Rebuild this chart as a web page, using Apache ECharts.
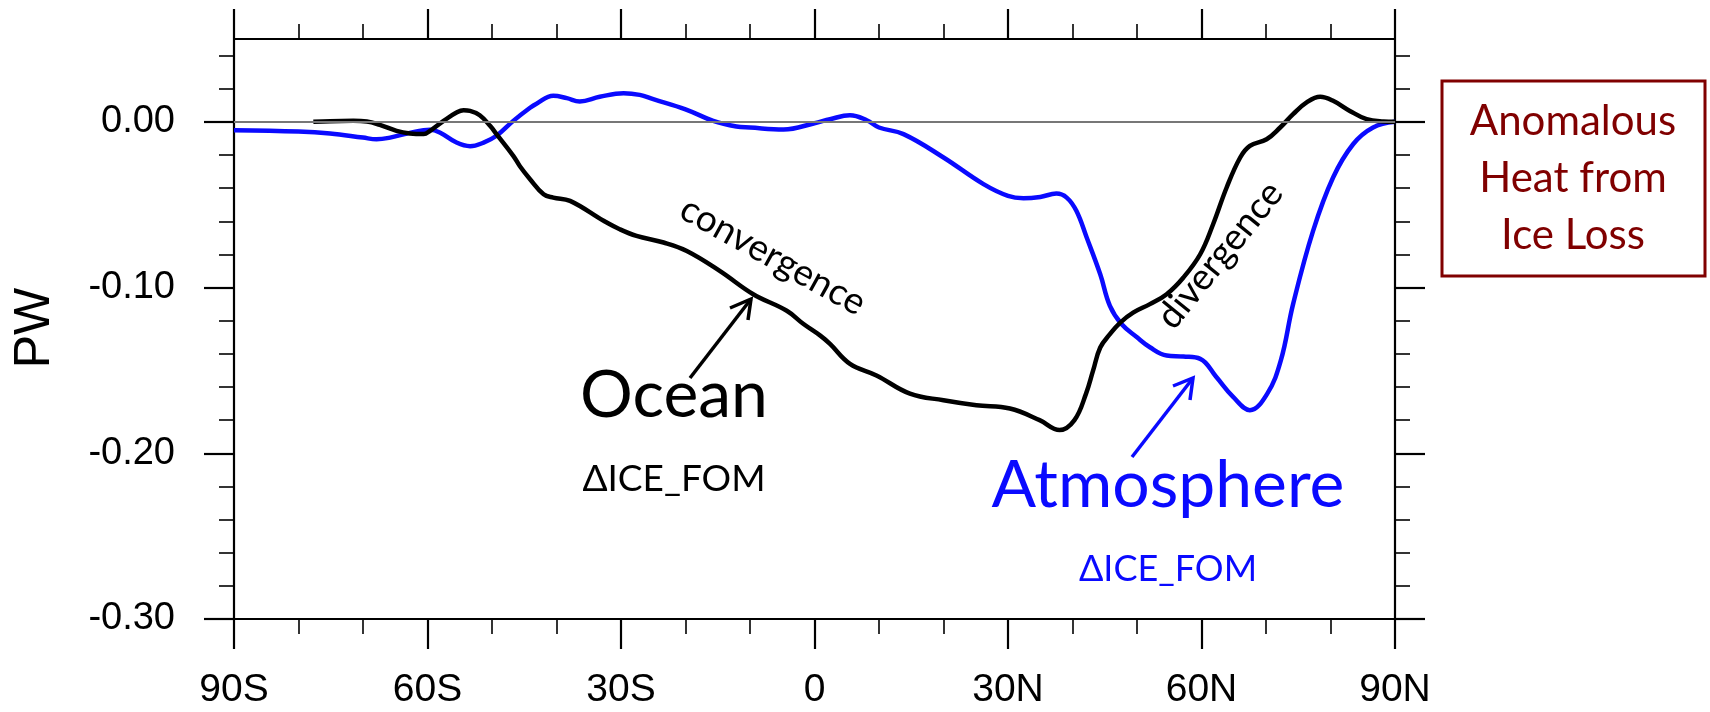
<!DOCTYPE html>
<html>
<head>
<meta charset="utf-8">
<script src="https://cdn.jsdelivr.net/npm/echarts@6/dist/echarts.min.js"></script>
<style>
  html, body { margin: 0; padding: 0; background: #fff; }
  #chart { width: 1710px; height: 712px; }
</style>
</head>
<body>
<div id="chart"></div>
<script>
// Ocean (black) heat transport anomaly, PW
var oceanLat = [-77.7, -75.1, -71.5, -69.4, -67.4, -64.8, -62.7, -60.6, -59.6, -57.5, -55.5, -54.4, -53.4, -51.9, -50.3, -49.3,
    -46.7, -45.7, -44.1, -42.0, -40.5, -37.9, -32.7, -30.2, -27.6, -23.4, -19.8, -14.7, -9.5, -4.3, -1.7, 0.9, 2.4, 5.5, 9.6,
    14.8, 20.0, 25.1, 30.3, 34.9, 38.0, 40.3, 42.1, 43.2, 44.3, 45.8, 47.4, 49.4, 52.0, 54.6, 57.2, 59.8, 61.8, 63.9, 66.0,
    67.5, 70.1, 72.2, 74.2, 76.3, 78.4, 80.4, 83.0, 85.6, 88.2, 90.0];
var oceanPW = [0, 0.0004, 0.0006, 0.0002, -0.0018, -0.0054, -0.0070, -0.0074, -0.0054, 0.0006, 0.0056, 0.0070, 0.0066, 0.0040, -0.0024, -0.0074,
    -0.0205, -0.0266, -0.0346, -0.0437, -0.0457, -0.0477, -0.0597, -0.0648, -0.0688, -0.0728, -0.0779, -0.0899, -0.1040, -0.1140, -0.1220, -0.1290, -0.1340, -0.1460, -0.1530,
    -0.1640, -0.1680, -0.1710, -0.1730, -0.1800, -0.1860, -0.1800, -0.1640, -0.1500, -0.1362, -0.1281, -0.1211, -0.1151, -0.1100, -0.1040, -0.0939, -0.0799, -0.0618, -0.0396, -0.0215,
    -0.0145, -0.0105, -0.0034, 0.0046, 0.0117, 0.0151, 0.0127, 0.0066, 0.0016, 0.0002, 0];

// Atmosphere (blue)
var atmLat = [-90, -80, -75.1, -70, -67.9, -65.8, -63.2, -60.6, -59.6, -58.1, -55.5, -53.4, -51.3, -49.3, -46.7, -44.1, -43.1,
    -40.5, -38.4, -36.4, -33.3, -29.6, -27.1, -25, -20, -15.7, -12.1, -10, -4.8, 0, 2.4, 5.5, 8.1, 10, 13.8, 20, 26.2, 30,
    32.4, 35, 37.5, 39.1, 40.6, 42.2, 44.3, 45.8, 47.6, 50, 52, 54.6, 57.2, 59.8, 62.3, 64.9, 67.5, 70.2, 72.3, 74.2, 77.3,
    80.4, 83.5, 86.6, 90];
var atmPW = [-0.0050, -0.0058, -0.0070, -0.0095, -0.0105, -0.0095, -0.0070, -0.0050, -0.0048, -0.0064, -0.0125, -0.0147, -0.0125, -0.0084, 0.0006, 0.0085, 0.0110,
    0.0157, 0.0143, 0.0123, 0.0151, 0.0173, 0.0163, 0.0137, 0.0076, 0.0006, -0.0028, -0.0034, -0.0046, -0.0008, 0.0016, 0.0040, 0.0010, -0.0034, -0.0074, -0.0215, -0.0376, -0.0447,
    -0.0461, -0.0453, -0.0433, -0.0457, -0.0537, -0.0698, -0.0920, -0.1110, -0.1220, -0.1300, -0.1360, -0.1410, -0.1416, -0.1430, -0.1540, -0.1660, -0.1740, -0.1640, -0.1440, -0.1100, -0.0658,
    -0.0336, -0.0135, -0.0034, 0];

var xTickLabels = {'-90': '90S', '-60': '60S', '-30': '30S', '0': '0', '30': '30N', '60': '60N', '90': '90N'};
var yMajorTicks = [-0.30, -0.20, -0.10, 0.00];

function pairs(xs, ys) {
    var out = [];
    for (var i = 0; i < xs.length; i++) out.push([xs[i], ys[i]]);
    return out;
}

var chart = echarts.init(document.getElementById('chart'));
var axisFont = '"Liberation Sans", Arial, Helvetica, sans-serif';
var noteFont = 'Lato, "Open Sans", sans-serif';

function xAxisCfg(pos, showLabel) {
    return {
        type: 'value', min: -90, max: 90, interval: 30, position: pos,
        axisLine: {show: true, onZero: false, lineStyle: {color: '#000', width: 2.2}},
        axisTick: {show: true, inside: false, length: 30, lineStyle: {color: '#000', width: 2.2}},
        minorTick: {show: true, splitNumber: 3, length: 15, lineStyle: {color: '#000', width: 1.6}},
        splitLine: {show: false},
        axisLabel: {
            show: showLabel, margin: 52, fontSize: 39, color: '#000', fontFamily: axisFont,
            formatter: function (v) { return xTickLabels[String(Math.round(v))]; }
        }
    };
}
function yAxisCfg(pos, showLabel) {
    return {
        type: 'value', min: -0.30, max: 0.05, interval: 0.1, position: pos,
        axisLine: {show: true, onZero: false, lineStyle: {color: '#000', width: 2.2}},
        axisTick: {show: true, inside: false, length: 30, customValues: yMajorTicks, lineStyle: {color: '#000', width: 2.2}},
        minorTick: {show: true, splitNumber: 5, length: 15, lineStyle: {color: '#000', width: 1.6}},
        splitLine: {show: false},
        axisLabel: {
            show: showLabel, customValues: yMajorTicks, margin: 59, fontSize: 38, color: '#000', fontFamily: axisFont,
            formatter: function (v) { return v.toFixed(2); }
        }
    };
}

var option = {
    animation: false,
    backgroundColor: '#fff',
    grid: {left: 234, right: 315, top: 39, bottom: 93},
    xAxis: [xAxisCfg('bottom', true), xAxisCfg('top', false)],
    yAxis: [yAxisCfg('left', true), yAxisCfg('right', false)],
    series: [
        {
            name: 'Atmosphere', type: 'line', data: pairs(atmLat, atmPW),
            showSymbol: false, smooth: 0.4,
            lineStyle: {color: '#0a0aff', width: 4.5},
            markLine: {
                silent: true, symbol: ['none', 'none'], label: {show: false},
                lineStyle: {color: '#777', width: 1.8, type: 'solid'},
                data: [{yAxis: 0}]
            }
        },
        {
            name: 'Ocean', type: 'line', data: pairs(oceanLat, oceanPW),
            showSymbol: false, smooth: 0.4,
            lineStyle: {color: '#000', width: 4.5}
        }
    ],
    graphic: [
        {type: 'text', x: 35, y: 328, rotation: Math.PI / 2,
            style: {text: 'PW', font: '50px ' + axisFont, fill: '#000', align: 'center', verticalAlign: 'middle'}},
        {type: 'text', x: 773, y: 256, rotation: -29 * Math.PI / 180,
            style: {text: 'convergence', font: '37px ' + noteFont, fill: '#000', align: 'center', verticalAlign: 'middle'}},
        {type: 'text', x: 1220, y: 255, rotation: 51 * Math.PI / 180,
            style: {text: 'divergence', font: '37px ' + noteFont, fill: '#000', align: 'center', verticalAlign: 'middle'}},
        {type: 'text', x: 674, y: 396,
            style: {text: 'Ocean', font: '66px ' + noteFont, fill: '#000', align: 'center', verticalAlign: 'middle'}},
        {type: 'text', x: 674, y: 479,
            style: {text: 'ΔICE_FOM', font: '37px ' + noteFont, fill: '#000', align: 'center', verticalAlign: 'middle'}},
        {type: 'text', x: 1168, y: 486,
            style: {text: 'Atmosphere', font: '66px ' + noteFont, fill: '#0a0aff', align: 'center', verticalAlign: 'middle'}},
        {type: 'text', x: 1168, y: 569,
            style: {text: 'ΔICE_FOM', font: '36px ' + noteFont, fill: '#0a0aff', align: 'center', verticalAlign: 'middle'}},
        // arrows
        {type: 'line', shape: {x1: 690, y1: 378, x2: 751, y2: 299}, style: {stroke: '#000', lineWidth: 3.5}},
        {type: 'polyline', shape: {points: [[730, 308], [751, 299], [748, 320]]}, style: {stroke: '#000', lineWidth: 3.5, fill: null}},
        {type: 'line', shape: {x1: 1132, y1: 457, x2: 1193, y2: 378}, style: {stroke: '#0a0aff', lineWidth: 3.5}},
        {type: 'polyline', shape: {points: [[1173, 386], [1193, 378], [1190, 400]]}, style: {stroke: '#0a0aff', lineWidth: 3.5, fill: null}},
        // box
        {type: 'rect', shape: {x: 1442, y: 81, width: 263, height: 195}, style: {stroke: '#800000', lineWidth: 3, fill: '#fff'}},
        {type: 'text', x: 1573, y: 178,
            style: {text: 'Anomalous\nHeat from\nIce Loss', font: '42px ' + noteFont, lineHeight: 57, fill: '#800000', align: 'center', verticalAlign: 'middle'}}
    ]
};
chart.setOption(option);
</script>
</body>
</html>
